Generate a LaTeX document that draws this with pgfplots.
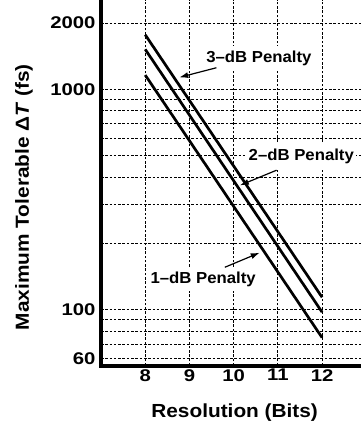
\documentclass[border=0pt]{standalone}
\usepackage{fontspec}
\setmainfont{Liberation Sans}
\newfontfamily\tickfont{Liberation Sans}[FakeStretch=1.2]
\newfontfamily\labfont{Liberation Sans}[FakeStretch=1.1]
\newfontfamily\annfont{Liberation Sans}[FakeStretch=1.05]
\usepackage{pgfplots}
\pgfplotsset{compat=1.18}
\usetikzlibrary{arrows.meta}
\begin{document}
\begin{tikzpicture}
\begin{axis}[
  name=ax,
  scale only axis,
  width=260bp, height=365.7bp,
  xmin=7, xmax=12.88,
  ymode=log, ymin=55.8, ymax=2545,
  axis x line*=bottom, axis y line*=left,
  axis line style={draw=none},
  xtick={8,9,10,11,12},
  xticklabels={8,9,10,11,12},
  ytick={60,100,1000,2000},
  yticklabels={60,100,1000,2000},
  minor ytick={70,80,90,200,300,400,500,600,700,800,900},
  major tick length=0pt, minor tick length=0pt,
  grid=both,
  major grid style={black, line width=1bp, dash pattern=on 2.6bp off 1.7bp},
  minor grid style={black, line width=1bp, dash pattern=on 2.6bp off 1.7bp},
  /pgf/number format/assume math mode=true,
  ticklabel style={font=\tickfont\bfseries\fontsize{17}{20}\selectfont},
  yticklabel style={xshift=-2bp},
  xlabel={Resolution (Bits)},
  ylabel={Maximum Tolerable Δ\textit{T} (fs)},
  label style={font=\labfont\bfseries\fontsize{19}{22}\selectfont},
  xlabel style={at={(axis description cs:0.514,-0.129)}, anchor=center},
  ylabel style={at={(axis description cs:-0.296,0.461)}, anchor=center},
]
\addplot[black, line width=2.7bp] coordinates {(8,1770) (12,114)};
\addplot[black, line width=2.7bp] coordinates {(8,1520) (12,97.6)};
\addplot[black, line width=2.7bp] coordinates {(8,1162) (12,74.8)};
\tikzset{ann/.style={font=\annfont\bfseries\fontsize{16}{19}\selectfont, fill=white, inner xsep=2bp, inner ysep=5bp}}
\node[ann] at (axis cs:10.57,1388) {3–dB Penalty};
\node[ann] at (axis cs:11.53,498) {2–dB Penalty};
\node[ann] at (axis cs:9.31,138) {1–dB Penalty};
\draw[line width=1.2bp, -{Latex[length=9bp,width=6bp]}] (axis cs:9.61,1254) -- (axis cs:8.77,1134);
\draw[line width=1.2bp, -{Latex[length=9bp,width=6bp]}] (axis cs:10.97,430) -- (axis cs:10.14,367);
\draw[line width=1.2bp, -{Latex[length=9bp,width=6bp]}] (axis cs:9.80,156) -- (axis cs:10.59,181.7);
\end{axis}
\draw[line width=3.6bp, line cap=rect] (ax.north west) -- (ax.south west) -- (ax.south east);
\pgfresetboundingbox
\path ([shift={(-101bp,-63.3bp)}]ax.south west) rectangle (ax.north east);
\end{tikzpicture}
\end{document}
